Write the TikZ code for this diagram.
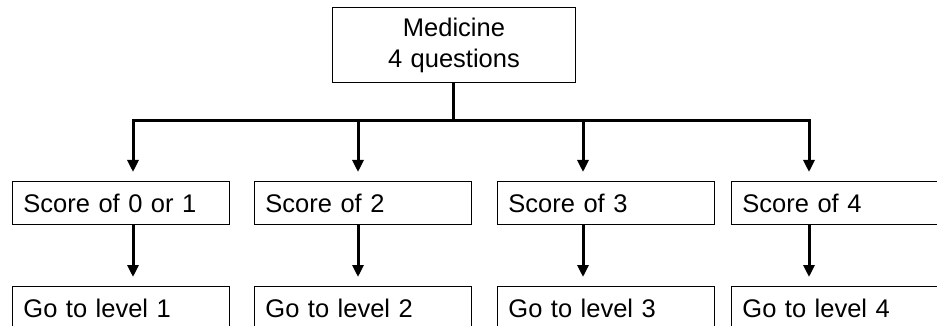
\documentclass[tikz,border=0pt]{standalone}
\usepackage{fontspec}
\setmainfont{Liberation Sans}
\usetikzlibrary{arrows.meta}

\begin{document}
\begin{tikzpicture}[x=1pt,y=-1pt, n/.style={draw,line width=0.9pt,anchor=north west,minimum height=43pt,text width=195pt,inner xsep=11pt,align=left,font=\fontsize{25.5}{31}\selectfont}, a/.style={-{Triangle[length=12pt,width=11pt]},line width=3pt,shorten >=9pt}]
\useasboundingbox (0,0) rectangle (937,326);
\node[n,align=center,text width=221pt,minimum height=75pt] (med) at (332,7) {Medicine\\4 questions};
\node[n] (s1) at (12,181) {Score of 0 or 1};
\node[n] (s2) at (254,181) {Score of 2};
\node[n] (s3) at (497,181) {Score of 3};
\node[n] (s4) at (731,181) {Score of 4};
\node[n] (g1) at (12,286) {Go to level 1};
\node[n] (g2) at (254,286) {Go to level 2};
\node[n] (g3) at (497,286) {Go to level 3};
\node[n] (g4) at (731,286) {Go to level 4};
\coordinate (b1) at (133,121);
\coordinate (b2) at (358,121);
\coordinate (b3) at (583,121);
\coordinate (b4) at (809,121);
\draw[line width=3pt] (med.south) -- (med.south |- b1);
\draw[line width=3pt,line cap=rect] (b1) -- (b4);
\draw[a] (b1) -- (b1 |- s1.north);
\draw[a] (b2) -- (b2 |- s2.north);
\draw[a] (b3) -- (b3 |- s3.north);
\draw[a] (b4) -- (b4 |- s4.north);
\draw[a] (b1 |- s1.south) -- (b1 |- g1.north);
\draw[a] (b2 |- s2.south) -- (b2 |- g2.north);
\draw[a] (b3 |- s3.south) -- (b3 |- g3.north);
\draw[a] (b4 |- s4.south) -- (b4 |- g4.north);
\end{tikzpicture}
\end{document}
